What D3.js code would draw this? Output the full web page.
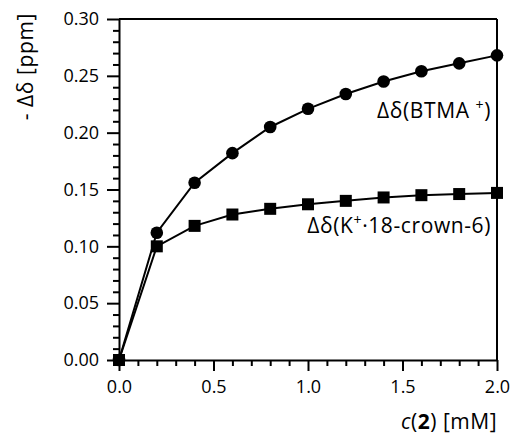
<!DOCTYPE html>
<html><head><meta charset="utf-8">
<script src="https://cdn.jsdelivr.net/npm/d3@7"></script>
<style>
body{margin:0;background:#fff;}
svg{display:block;font-family:"Open Sans","Noto Sans",sans-serif;}
.axis path,.axis line{stroke:#000;stroke-width:2;}
.axis text{font-size:18px;fill:#000;font-family:"Open Sans","Noto Sans",sans-serif;}
</style></head>
<body>
<svg id="c" width="511" height="437"></svg>
<script>
const conc = [0, 0.2, 0.4, 0.6, 0.8, 1.0, 1.2, 1.4, 1.6, 1.8, 2.0];
const btma = [0, 0.112, 0.156, 0.182, 0.205, 0.221, 0.234, 0.245, 0.254, 0.261, 0.268];
const crown = [0, 0.100, 0.118, 0.128, 0.133, 0.137, 0.140, 0.143, 0.145, 0.146, 0.147];
const xTicks = [0, 0.5, 1.0, 1.5, 2.0];
const yTicks = [0, 0.05, 0.10, 0.15, 0.20, 0.25, 0.30];
const xAllTicks = [0, 0.1, 0.2, 0.3, 0.4, 0.5, 0.6, 0.7, 0.8, 0.9, 1.0, 1.1, 1.2, 1.3, 1.4, 1.5, 1.6, 1.7, 1.8, 1.9, 2.0];
const yAllTicks = [0, 0.01, 0.02, 0.03, 0.04, 0.05, 0.06, 0.07, 0.08, 0.09, 0.10, 0.11, 0.12, 0.13, 0.14, 0.15,
                   0.16, 0.17, 0.18, 0.19, 0.20, 0.21, 0.22, 0.23, 0.24, 0.25, 0.26, 0.27, 0.28, 0.29, 0.30];

const svg = d3.select("#c");
const x = d3.scaleLinear().domain([0, 2.0]).range([119, 497]);
const y = d3.scaleLinear().domain([0, 0.30]).range([360, 19]);

const isMajorX = v => xTicks.some(t => Math.abs(t - v) < 1e-6);
const isMajorY = v => yTicks.some(t => Math.abs(t - v) < 1e-6);

// axes with major + minor ticks
const gx = svg.append("g").attr("class","axis").attr("transform","translate(0,360)")
  .call(d3.axisBottom(x).tickValues(xAllTicks).tickSize(11).tickSizeOuter(0).tickPadding(9)
    .tickFormat(d => isMajorX(d) ? d3.format(".1f")(d) : ""));
gx.selectAll(".tick").filter(d => !isMajorX(d)).select("line").attr("y2", 6);

const gy = svg.append("g").attr("class","axis").attr("transform","translate(119,0)")
  .call(d3.axisLeft(y).tickValues(yAllTicks).tickSize(12).tickSizeOuter(0).tickPadding(8)
    .tickFormat(d => isMajorY(d) ? d3.format(".2f")(d) : ""));
gy.selectAll(".tick").filter(d => !isMajorY(d)).select("line").attr("x2", -6);

// frame top and right
svg.append("line").attr("x1",x(0)).attr("x2",x(2)).attr("y1",y(0.3)).attr("y2",y(0.3)).attr("stroke","#000").attr("stroke-width",2);
svg.append("line").attr("x1",x(2)).attr("x2",x(2)).attr("y1",y(0.3)).attr("y2",y(0)).attr("stroke","#000").attr("stroke-width",2);

const line = d3.line().x(d => x(d[0])).y(d => y(d[1]));
const sBtma = conc.map((c,i) => [c, btma[i]]);
const sCrown = conc.map((c,i) => [c, crown[i]]);

svg.append("path").datum(sBtma).attr("d", line).attr("fill","none").attr("stroke","#000").attr("stroke-width",2);
svg.append("path").datum(sCrown).attr("d", line).attr("fill","none").attr("stroke","#000").attr("stroke-width",2);

svg.selectAll(".sq").data(sCrown).enter().append("rect")
  .attr("x", d => x(d[0]) - 6).attr("y", d => y(d[1]) - 6)
  .attr("width", 12).attr("height", 12).attr("fill", "#000");
svg.selectAll(".ci").data(sBtma).enter().append("circle")
  .attr("cx", d => x(d[0])).attr("cy", d => y(d[1])).attr("r", 6.3).attr("fill", "#000");

// series labels
const t1 = svg.append("text").attr("x", 491).attr("y", 118).attr("text-anchor","end")
  .attr("font-size", 21).attr("letter-spacing", 0.6);
t1.append("tspan").text("Δδ(BTMA ");
t1.append("tspan").attr("dy", -8).attr("font-size", 14).text("+");
t1.append("tspan").attr("dy", 8).text(")");

const t2 = svg.append("text").attr("x", 491).attr("y", 233).attr("text-anchor","end")
  .attr("font-size", 21).attr("letter-spacing", 0.6);
t2.append("tspan").text("Δδ(K");
t2.append("tspan").attr("dy", -8).attr("font-size", 14).text("+");
t2.append("tspan").attr("dy", 8).text("·18-crown-6)");

// axis titles
const xt = svg.append("text").attr("x", 497).attr("y", 429).attr("text-anchor","end")
  .attr("font-size", 21).attr("letter-spacing", 0.5);
xt.append("tspan").attr("font-style","italic").text("c");
xt.append("tspan").text("(");
xt.append("tspan").attr("font-weight","bold").text("2");
xt.append("tspan").text(") [mM]");

svg.append("text").attr("transform","translate(33,13) rotate(-90)").attr("text-anchor","end")
  .attr("font-size", 21).attr("letter-spacing", 0.6).text("- Δδ [ppm]");
</script>
</body></html>
